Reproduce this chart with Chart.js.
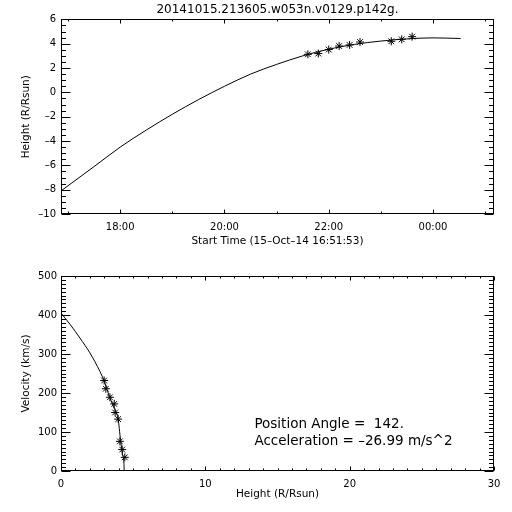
<!DOCTYPE html>
<html>
<head>
<meta charset="utf-8">
<script src="https://cdn.jsdelivr.net/npm/chart.js@4.4.1/dist/chart.umd.min.js"></script>
<style>
  html, body { margin: 0; padding: 0; background: #fff; }
  #wrap { position: relative; width: 512px; height: 512px; }
  .panel { position: absolute; left: 0; width: 512px; height: 256px; }
</style>
</head>
<body>
<div id="wrap">
  <div class="panel" style="top:0"><canvas id="chart-height" width="512" height="256"></canvas></div>
  <div class="panel" style="top:256px"><canvas id="chart-velocity" width="512" height="256"></canvas></div>
</div>
<script>
// ─── Veri: yükseklik-zaman (üst panel) ───────────────────────────────────────
const plotTitle = '20141015.213605.w053n.v0129.p142g.';
const startHour = 16 + 51 / 60 + 53 / 3600;   // 15-Oct-14 16:51:53
const endHour = 25.17;

const fitHours  = [startHour, 17.5, 18.0, 18.5, 19.0, 19.5, 20.0, 20.5, 21.0, 21.5, 22.0, 22.5, 23.0, 23.5, 24.0, 24.53];
const fitHeight = [-8.1, -6.1, -4.5, -3.1, -1.8, -0.6, 0.5, 1.5, 2.3, 3.0, 3.55, 3.95, 4.22, 4.4, 4.48, 4.43];

const obsHours  = [21.6, 21.8, 22.0, 22.2, 22.4, 22.6, 23.2, 23.4, 23.6];
const obsHeight = [3.13, 3.19, 3.52, 3.81, 3.90, 4.14, 4.20, 4.36, 4.58];

const timeTicks   = [18, 20, 22, 24];
const heightTicks = [-10, -8, -6, -4, -2, 0, 2, 4, 6];

// ─── Veri: hız-yükseklik (alt panel) ─────────────────────────────────────────
const fitR = [0, 0.65, 1.31, 2.0, 2.7, 3.0, 3.39, 3.73, 3.96, 4.12, 4.26, 4.36, 4.38];
const fitV = [405, 375, 341, 303, 255, 230, 187, 157, 133, 81, 43, 20, 0];

const obsR = [2.99, 3.11, 3.39, 3.69, 3.75, 3.96, 4.08, 4.24, 4.42];
const obsV = [232, 211, 189, 172, 150, 133, 76, 55, 35];

const rTicks = [0, 10, 20, 30];
const vTicks = [0, 100, 200, 300, 400, 500];

const positionAngle = 142;
const acceleration = -26.99;

Chart.defaults.font.family = "'DejaVu Sans', sans-serif";
Chart.defaults.color = '#000';

const dash = v => (v < 0 ? '\u2013' + Math.abs(v) : String(v));

// IDL tarzı kutu + içe dönük tikler (4 kenar)
function idlBox(o) {
  return {
    id: 'idlBox',
    afterDraw(chart) {
      const { ctx, chartArea: a, scales: { x, y } } = chart;
      const L = Math.round(a.left) + 0.5, R = Math.round(a.right) - 0.5;
      const T = Math.round(a.top) + 0.5, B = Math.round(a.bottom) - 0.5;
      ctx.save();
      ctx.strokeStyle = '#000';
      ctx.lineWidth = 1;
      ctx.strokeRect(L, T, R - L, B - T);
      ctx.beginPath();
      const nx = Math.round((o.xMax - o.xMin) / o.xStep);
      for (let i = 0; i <= nx; i++) {
        const v = o.xMin + i * o.xStep;
        const major = o.xMajor.some(m => Math.abs(m - v) < 1e-6);
        const len = major ? 4 : 2;
        const px = Math.round(x.getPixelForValue(v)) + 0.5;
        ctx.moveTo(px, B); ctx.lineTo(px, B - len);
        ctx.moveTo(px, T); ctx.lineTo(px, T + len);
      }
      const ny = Math.round((o.yMax - o.yMin) / o.yStep);
      for (let i = 0; i <= ny; i++) {
        const v = o.yMin + i * o.yStep;
        const major = o.yMajor.some(m => Math.abs(m - v) < 1e-6);
        const len = major ? 9 : 4.5;
        const py = Math.round(y.getPixelForValue(v)) + 0.5;
        ctx.moveTo(L, py); ctx.lineTo(L + len, py);
        ctx.moveTo(R, py); ctx.lineTo(R - len, py);
      }
      ctx.stroke();
      if (o.notes) {
        ctx.fillStyle = '#000';
        ctx.font = "13.5px 'DejaVu Sans'";
        ctx.textBaseline = 'middle';
        o.notes.forEach(n => ctx.fillText(n.text, x.getPixelForValue(n.x), y.getPixelForValue(n.y)));
      }
      ctx.restore();
    }
  };
}

function axisBase(ticks, fmt, padding) {
  return {
    type: 'linear',
    grid: { display: false, drawTicks: false },
    border: { display: false },
    afterBuildTicks: s => { s.ticks = ticks.map(v => ({ value: v })); },
    ticks: { font: { size: 10 }, padding, callback: fmt, maxRotation: 0, autoSkip: false },
  };
}

function toXY(xs, ys) { return xs.map((x, i) => ({ x, y: ys[i] })); }

// ─── Üst panel ───────────────────────────────────────────────────────────────
new Chart(document.getElementById('chart-height'), {
  type: 'line',
  data: {
    datasets: [
      {
        data: toXY(fitHours, fitHeight),
        borderColor: '#000', borderWidth: 1, pointRadius: 0,
        cubicInterpolationMode: 'monotone', fill: false,
      },
      {
        data: toXY(obsHours, obsHeight),
        showLine: false, pointStyle: 'star', pointRadius: 4,
        pointBorderColor: '#000', pointBorderWidth: 1,
      },
    ],
  },
  options: {
    responsive: false, animation: false,
    layout: { padding: { left: 0, right: 18, top: 0, bottom: 0 } },
    plugins: {
      legend: { display: false }, tooltip: { enabled: false },
      title: {
        display: true, text: plotTitle, fullSize: false,
        font: { size: 12, weight: 'normal' }, color: '#000',
        padding: { top: 3, bottom: 2 },
      },
    },
    scales: {
      x: {
        ...axisBase(timeTicks, v => String(v % 24).padStart(2, '0') + ':00', 7),
        min: startHour, max: endHour,
        title: { display: true, text: 'Start Time (15\u2013Oct\u201314 16:51:53)', font: { size: 10.5 }, padding: { top: 0, bottom: 8 } },
        afterFit: s => { s.height = 42; },
      },
      y: {
        ...axisBase(heightTicks, dash, 5),
        min: -10, max: 6,
        title: { display: true, text: 'Height (R/Rsun)', font: { size: 10.5 }, padding: { top: 20, bottom: 0 } },
        afterFit: s => { s.width = 61; },
      },
    },
  },
  plugins: [idlBox({
    xMin: 17, xMax: 25, xStep: 1, xMajor: timeTicks,
    yMin: -10, yMax: 6, yStep: 0.5, yMajor: heightTicks,
  })],
});

// ─── Alt panel ───────────────────────────────────────────────────────────────
new Chart(document.getElementById('chart-velocity'), {
  type: 'line',
  data: {
    datasets: [
      {
        data: toXY(fitR, fitV),
        borderColor: '#000', borderWidth: 1, pointRadius: 0,
        cubicInterpolationMode: 'monotone', fill: false,
      },
      {
        data: toXY(obsR, obsV),
        showLine: false, pointStyle: 'star', pointRadius: 4,
        pointBorderColor: '#000', pointBorderWidth: 1,
      },
    ],
  },
  options: {
    responsive: false, animation: false,
    layout: { padding: { left: 0, right: 18, top: 20, bottom: 0 } },
    plugins: {
      legend: { display: false }, tooltip: { enabled: false },
    },
    scales: {
      x: {
        ...axisBase(rTicks, v => String(v), 7),
        min: 0, max: 30,
        title: { display: true, text: 'Height (R/Rsun)', font: { size: 10.5 }, padding: { top: 0, bottom: 11 } },
        afterFit: s => { s.height = 41; },
      },
      y: {
        ...axisBase(vTicks, v => String(v), 4),
        min: 0, max: 500,
        title: { display: true, text: 'Velocity (km/s)', font: { size: 10.5 }, padding: { top: 20, bottom: 0 } },
        afterFit: s => { s.width = 61; },
      },
    },
  },
  plugins: [idlBox({
    xMin: 0, xMax: 30, xStep: 1, xMajor: rTicks,
    yMin: 0, yMax: 500, yStep: 10, yMajor: vTicks,
    notes: [
      { x: 13.4, y: 119, text: 'Position Angle =  ' + positionAngle + '.' },
      { x: 13.4, y: 76, text: 'Acceleration = ' + dash(acceleration) + ' m/s^2' },
    ],
  })],
});
</script>
</body>
</html>
